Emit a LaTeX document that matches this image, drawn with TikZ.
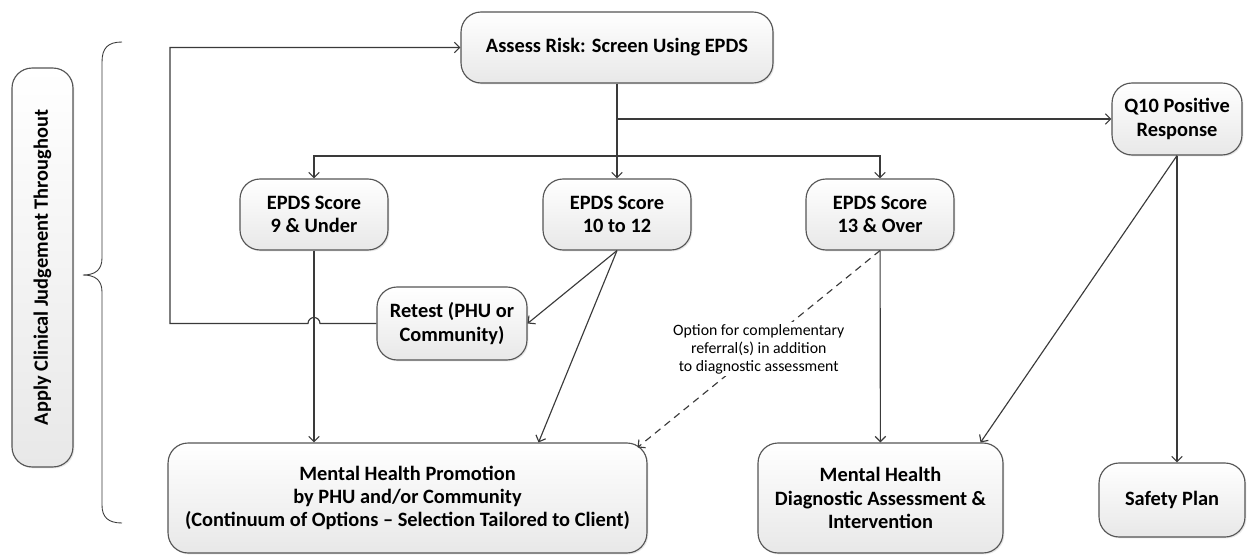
\documentclass[tikz,border=0pt]{standalone}
\usepackage{fontspec}
\setmainfont{Carlito}
\usepackage{tikz}
\usetikzlibrary{positioning}
\usetikzlibrary{arrows.meta}
\usetikzlibrary{calc}
\usetikzlibrary{shadows}

\definecolor{linegray}{HTML}{3A3A3A}
\definecolor{boxgray}{HTML}{555555}
\definecolor{fillgray}{HTML}{E8E8E8}

\begin{document}
\begin{tikzpicture}[x=0.02cm,y=-0.02cm,>={Straight Barb[length=3pt,width=6pt]},
                    line width=0.65pt,
                    main node/.style={rectangle,rounded corners=0.4cm,draw=boxgray,top color=white,bottom color=fillgray,
                      drop shadow={opacity=0.18,shadow xshift=0.8pt,shadow yshift=-0.8pt},
                      align=center,inner sep=2pt,font=\fontsize{11.6}{13.2}\selectfont\bfseries},
                    link/.style={draw=linegray,->}]
\useasboundingbox (0,0) rectangle (1250,558);

\node[main node] (1) [minimum width=6.24cm,minimum height=1.42cm] at (617,47.5) {Assess Risk: Screen Using EPDS};
\node[main node] (2) [minimum width=2.6cm,minimum height=1.44cm] at (1177,119) {Q10 Positive\\Response};
\node[main node] (3) [minimum width=2.96cm,minimum height=1.42cm] at (314,214.5) {EPDS Score\\9 \& Under};
\node[main node] (4) [minimum width=2.96cm,minimum height=1.42cm] at (617,214.5) {EPDS Score\\10 to 12};
\node[main node] (5) [minimum width=2.96cm,minimum height=1.42cm] at (880,214.5) {EPDS Score\\13 \& Over};
\node[main node] (6) [minimum width=3cm,minimum height=1.46cm] at (452,323.5) {Retest (PHU or\\Community)};
\node[main node] (7) [minimum width=9.58cm,minimum height=2.2cm] at (407.5,498) {Mental Health Promotion\\by PHU and/or Community\\(Continuum of Options -- Selection Tailored to Client)};
\node[main node] (8) [minimum width=4.9cm,minimum height=2.2cm] at (880.5,498) {Mental Health\\Diagnostic Assessment \&\\Intervention};
\node[main node] (9) [minimum width=2.92cm,minimum height=1.48cm] at (1172,500) {Safety Plan};
\node[main node] (10) [rotate=90,minimum width=7.98cm,minimum height=1.22cm] at (42.5,267.5) {Apply Clinical Judgement Throughout};

\coordinate (a) at (617,119);
\coordinate (b) at (617,156);

\draw[linegray] (1) -- (b);
\draw[link] (a) -- (2);
\draw[link] (b) -- (4);
\draw[link] (b) -| (3);
\draw[link] (b) -| (5);
\draw[link] (3) -- (3 |- 7.north);
\draw[link] (4.south) -- (6.east);
\draw[link] (4.south) -- ($(7.north east)+(-109,0)$);
\draw[link,dash pattern=on 4pt off 3pt] (5.south) -- node[fill=white,align=center,inner sep=1pt,font=\fontsize{9}{10.2}\selectfont] (11) {Option for complementary\\referral(s) in addition\\to diagnostic assessment} ($(7.north east)+(-10,5)$);
\draw[link] (5) -- (8);
\draw[link] (2.south) -- ($(8.north east)+(-23,0)$);
\draw[link] (2.south) -- (2.south |- 9.north);
\draw[link] (6.west) -- (320,323.5) arc[start angle=0,end angle=-180,radius=6] -- (170,323.5) |- (1.west);

\draw[linegray,line width=0.5pt] (122,42) .. controls (108,42) and (102,48) .. (102,62) -- (102,258)
  .. controls (102,270) and (95,275) .. (83,275) .. controls (95,275) and (102,280) .. (102,292) -- (102,505)
  .. controls (102,517) and (108,523) .. (122,523);
\end{tikzpicture}
\end{document}
